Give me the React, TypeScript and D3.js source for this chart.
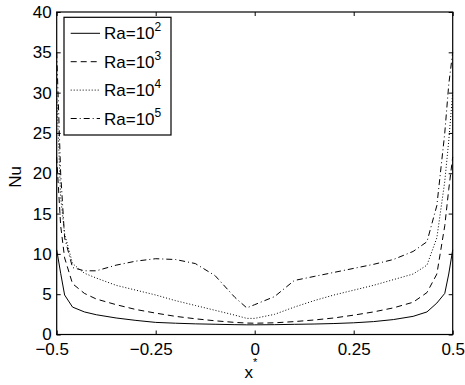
import React, { useEffect, useRef } from 'react';
import * as d3 from 'd3';

// sample positions (x*) shared by all curves
const xs = [-0.5, -0.49, -0.48, -0.46, -0.43, -0.4, -0.35, -0.3, -0.25, -0.2, -0.15, -0.1, -0.05, -0.02, 0,
  0.05, 0.1, 0.15, 0.2, 0.25, 0.3, 0.35, 0.4, 0.435, 0.46, 0.48, 0.49, 0.5];

const nuRa2 = [10.5, 7.6, 4.9, 3.4, 2.8, 2.45, 2.05, 1.75, 1.5, 1.4, 1.32, 1.27, 1.22, 1.2, 1.2,
  1.22, 1.26, 1.3, 1.36, 1.45, 1.6, 1.85, 2.25, 2.8, 3.9, 5.1, 7.5, 10.5];
const nuRa3 = [22, 13.5, 9.5, 6.3, 5.1, 4.4, 3.7, 3.1, 2.65, 2.25, 1.95, 1.7, 1.5, 1.42, 1.4,
  1.45, 1.6, 1.8, 2.05, 2.4, 2.8, 3.3, 4.0, 5.2, 7.5, 13.5, 18, 22];
const nuRa4 = [30, 17, 12.5, 8.8, 7.6, 7.0, 6.1, 5.5, 4.9, 4.2, 3.6, 3.0, 2.4, 2.0, 2.0,
  2.5, 3.4, 4.2, 4.9, 5.5, 6.1, 6.8, 7.5, 8.6, 12, 19, 24, 30];
const nuRa5 = [35, 20, 12, 8.3, 7.9, 7.9, 8.6, 9.1, 9.4, 9.3, 8.8, 7.3, 4.6, 3.3, 3.7,
  4.7, 6.7, 7.2, 7.7, 8.2, 8.7, 9.3, 10.3, 11.5, 16, 25, 31, 35];

const seriesNames = ['2', '3', '4', '5'];
const seriesDash = ['none', '6,4', '1,2', '6,3,1,3'];
const xTicks = [-0.5, -0.25, 0, 0.25, 0.5];
const yTicks = [0, 5, 10, 15, 20, 25, 30, 35, 40];

const width = 465;
const height = 385;
const FONT = '"Liberation Sans", Arial, Helvetica, sans-serif';

export default function App() {
  const ref = useRef<SVGSVGElement>(null);

  useEffect(() => {
    const marge = { top: 12, bottom: 50.5, left: 56.7, right: 12.3 };
    const svg = d3.select(ref.current);
    svg.selectAll('*').remove();

    const x = d3.scaleLinear().domain([-0.5, 0.5]).range([marge.left, width - marge.right]);
    const y = d3.scaleLinear().domain([0, 40]).range([height - marge.bottom, marge.top]);

    svg.append('rect').attr('width', width).attr('height', height).attr('fill', 'white');

    // curves
    const line = d3.line<number>()
      .x((d, i) => x(xs[i]))
      .y(d => y(d));
    const all = [nuRa2, nuRa3, nuRa4, nuRa5];
    all.forEach((vals, k) => {
      svg.append('path')
        .attr('d', line(vals))
        .attr('fill', 'none')
        .attr('stroke', '#000')
        .attr('stroke-width', 1)
        .attr('stroke-dasharray', seriesDash[k]);
    });

    // axes, ticks pointing inwards
    const fmt = d3.format('');
    const bottom = svg.append('g')
      .attr('transform', 'translate(0,' + y(0) + ')')
      .call(d3.axisBottom(x).tickValues(xTicks).tickFormat(fmt as any).tickSizeInner(-4).tickSizeOuter(0).tickPadding(8));
    bottom.selectAll('text').attr('dx', (d: any) => (d < 0 ? -5 : 0));
    svg.append('g')
      .attr('transform', 'translate(0,' + y(40) + ')')
      .call(d3.axisTop(x).tickValues(xTicks).tickFormat(() => '').tickSizeInner(-4).tickSizeOuter(0));
    svg.append('g')
      .attr('transform', 'translate(' + x(-0.5) + ',0)')
      .call(d3.axisLeft(y).tickValues(yTicks).tickSizeInner(-4).tickSizeOuter(0).tickPadding(5));
    svg.append('g')
      .attr('transform', 'translate(' + x(0.5) + ',0)')
      .call(d3.axisRight(y).tickValues(yTicks).tickFormat(() => '').tickSizeInner(-4).tickSizeOuter(0));

    svg.selectAll('.domain').remove();
    svg.selectAll('.tick line').attr('stroke', '#000');
    svg.selectAll('.tick text')
      .attr('font-family', FONT)
      .attr('font-size', 17)
      .attr('fill', '#000');

    svg.append('rect')
      .attr('x', x(-0.5)).attr('y', y(40))
      .attr('width', x(0.5) - x(-0.5)).attr('height', y(0) - y(40))
      .attr('fill', 'none').attr('stroke', '#000').attr('stroke-width', 1.2);

    // axis labels
    const xl = svg.append('text')
      .attr('x', 251).attr('y', 378)
      .attr('text-anchor', 'middle')
      .attr('font-family', FONT).attr('font-size', 17);
    xl.append('tspan').text('x');
    xl.append('tspan').attr('font-size', 11).attr('dy', -12).text('*');

    svg.append('text')
      .attr('transform', 'translate(21,177) rotate(-90)')
      .attr('text-anchor', 'middle')
      .attr('font-family', FONT).attr('font-size', 17)
      .text('Nu');

    // legend
    const lg = svg.append('g');
    lg.append('rect')
      .attr('x', 64).attr('y', 17.3).attr('width', 107).attr('height', 117.7)
      .attr('fill', 'white').attr('stroke', '#000').attr('stroke-width', 1.2);
    seriesNames.forEach((p, k) => {
      const ly = 33.3 + k * 28.4;
      lg.append('line')
        .attr('x1', 70.7).attr('x2', 100).attr('y1', ly).attr('y2', ly)
        .attr('stroke', '#000').attr('stroke-width', 1)
        .attr('stroke-dasharray', seriesDash[k]);
      const t = lg.append('text')
        .attr('x', 104).attr('y', ly + 6)
        .attr('font-family', FONT).attr('font-size', 17);
      t.append('tspan').text('Ra=10');
      t.append('tspan').attr('font-size', 12).attr('dy', -8).text(p);
    });
  }, []);

  return (
    <svg ref={ref} width={width} height={height}
      style={{ position: 'absolute', left: 0, top: 0 }} />
  );
}
